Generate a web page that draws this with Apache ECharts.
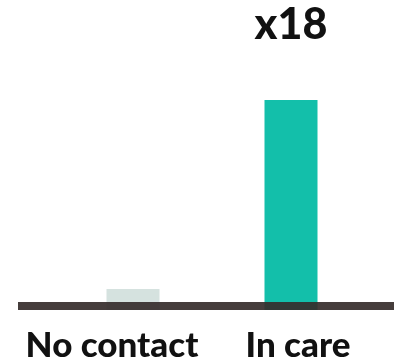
<!DOCTYPE html>
<html>
<head>
<meta charset="utf-8">
<script src="https://cdn.jsdelivr.net/npm/echarts@6/dist/echarts.min.js"></script>
<style>
  html, body { margin: 0; padding: 0; background: #fff; }
  #main { width: 402px; height: 364px; }
</style>
</head>
<body>
<div id="main"></div>
<script>
// data
var categories = ['No contact', 'In care'];
var values = [1.8, 18];
var barColors = ['#d5e2df', '#13bfaa'];
var ratioLabel = 'x18';

var myChart = echarts.init(document.getElementById('main'));

var option = {
    animation: false,
    grid: [
        // bars + labels
        { left: 54, right: 32, top: 100, bottom: 54 },
        // long baseline
        { left: 18, right: 8, top: 100, bottom: 58 }
    ],
    xAxis: [{
        type: 'category',
        gridIndex: 0,
        data: categories,
        axisLine: { show: false },
        axisTick: { show: false },
        axisLabel: {
            margin: 18,
            formatter: function (v, i) {
                return i === 0 ? '{a|' + v + '}' : '{b|' + v + '}';
            },
            rich: {
                a: { fontFamily: 'Lato', fontWeight: 900, fontSize: 35, color: '#111', padding: [0, 42, 0, 0] },
                b: { fontFamily: 'Lato', fontWeight: 900, fontSize: 35, color: '#111', padding: [0, 0, 0, 14] }
            }
        }
    }, {
        type: 'category',
        gridIndex: 1,
        data: categories,
        z: 10,
        axisLine: { show: true, lineStyle: { color: '#352d2b', width: 8, opacity: 0.92, cap: 'butt' } },
        axisTick: { show: false },
        axisLabel: { show: false }
    }],
    yAxis: [{
        type: 'value',
        gridIndex: 0,
        min: 0,
        max: 18,
        show: false
    }, {
        type: 'value',
        gridIndex: 1,
        min: 0,
        max: 18,
        show: false
    }],
    series: [{
        type: 'bar',
        xAxisIndex: 0,
        yAxisIndex: 0,
        barWidth: 53,
        data: values.map(function (v, i) {
            return {
                value: v,
                itemStyle: { color: barColors[i] },
                label: {
                    show: i === 1,
                    position: 'top',
                    distance: 53,
                    formatter: ratioLabel,
                    fontFamily: 'Lato',
                    fontWeight: 900,
                    fontSize: 43,
                    color: '#111'
                }
            };
        })
    }]
};

myChart.setOption(option);
</script>
</body>
</html>
